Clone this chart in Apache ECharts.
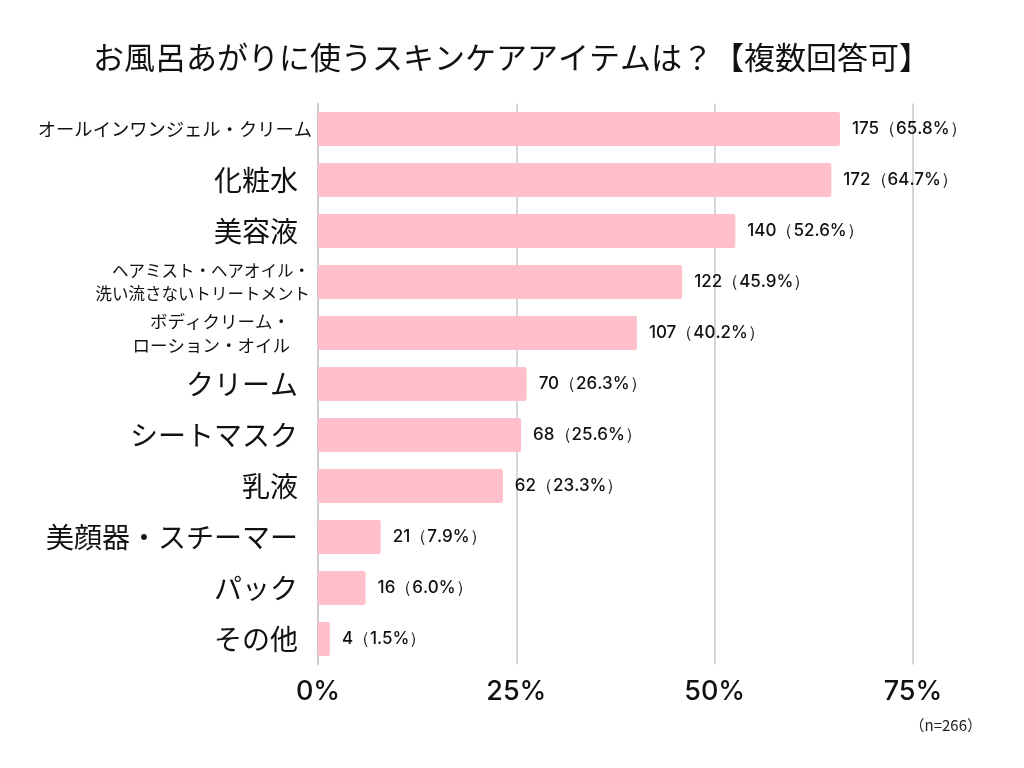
<!DOCTYPE html>
<html>
<head>
<meta charset="utf-8">
<script src="https://cdn.jsdelivr.net/npm/echarts@6/dist/echarts.min.js"></script>
<style>
html,body{margin:0;padding:0;background:#fff;}
#chart{width:1024px;height:768px;}
</style>
</head>
<body>
<div id="chart"></div>
<script>
const categories = [
  'オールインワンジェル・クリーム',
  '化粧水',
  '美容液',
  'ヘアミスト・ヘアオイル・\n洗い流さないトリートメント',
  'ボディクリーム・\nローション・オイル',
  'クリーム',
  'シートマスク',
  '乳液',
  '美顔器・スチーマー',
  'パック',
  'その他'
];
const counts = [175, 172, 140, 122, 107, 70, 68, 62, 21, 16, 4];
const percents = [65.8, 64.7, 52.6, 45.9, 40.2, 26.3, 25.6, 23.3, 7.9, 6.0, 1.5];
const labelSizes = ['m', 'b', 'b', 's', 't', 'b', 'b', 'b', 'b', 'b', 'b'];
const xTicks = [0, 25, 50, 75];

const chart = echarts.init(document.getElementById('chart'));
const jp = '"Noto Sans CJK JP", "Noto Sans", sans-serif';
const num = 'Inter, Lato, "Noto Sans", sans-serif';

chart.setOption({
  animation: false,
  backgroundColor: '#ffffff',
  title: {
    text: 'お風呂あがりに使うスキンケアアイテムは？【複数回答可】',
    left: 88,
    top: 37,
    textStyle: { fontFamily: jp, fontSize: 31, fontWeight: 'normal', color: '#111' }
  },
  graphic: [{
    type: 'text',
    right: 42,
    top: 718,
    style: { text: '（n=266）', font: '15px ' + jp, fill: '#222' }
  }],
  grid: { left: 318, right: 111, top: 103.5, bottom: 103.5, containLabel: false },
  xAxis: {
    type: 'value',
    min: xTicks[0],
    max: xTicks[xTicks.length - 1],
    interval: 25,
    axisLine: { show: false },
    axisTick: { show: false },
    splitLine: { show: true, lineStyle: { color: '#c8c8c8', width: 1.5 } },
    axisLabel: {
      margin: 14,
      formatter: '{value}%',
      fontFamily: num,
      fontSize: 27,
      fontWeight: 500,
      color: '#111'
    }
  },
  yAxis: {
    type: 'category',
    data: categories,
    inverse: true,
    axisTick: { show: false },
    axisLine: { show: true, lineStyle: { color: '#c8c8c8', width: 1.5 } },
    axisLabel: {
      margin: 6,
      color: '#111',
      formatter: function (v, i) {
        return v.split('\n').map(l => '{' + labelSizes[i] + '|' + l + '}').join('\n');
      },
      rich: {
        b: { fontFamily: jp, fontSize: 28, color: '#111', padding: [0, 14, 0, 0], lineHeight: 34 },
        m: { fontFamily: jp, fontSize: 18.3, color: '#111', padding: [0, 0, 0, 0], lineHeight: 24 },
        s: { fontFamily: jp, fontSize: 16.5, color: '#111', padding: [0, 2, 0, 0], lineHeight: 23 },
        t: { fontFamily: jp, fontSize: 17.5, color: '#111', padding: [0, 22, 0, 0], lineHeight: 24 }
      }
    }
  },
  series: [{
    type: 'bar',
    data: percents,
    barWidth: 34,
    itemStyle: { color: '#ffbfcb', borderRadius: 2 },
    label: {
      show: true,
      position: 'right',
      distance: 12,
      fontFamily: num,
      fontSize: 17,
      fontWeight: 500,
      color: '#111',
      formatter: function (p) {
        return counts[p.dataIndex] + '（' + percents[p.dataIndex].toFixed(1) + '%）';
      }
    }
  }]
});
</script>
</body>
</html>
